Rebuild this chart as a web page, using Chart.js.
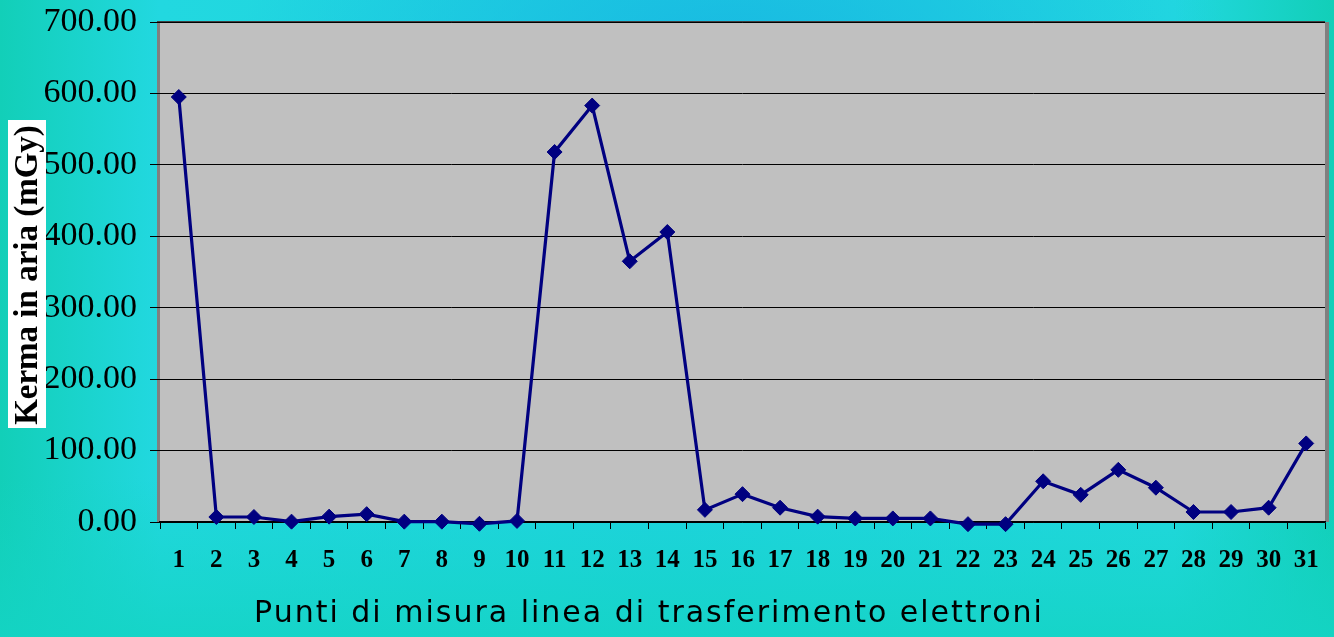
<!DOCTYPE html>
<html>
<head>
<meta charset="utf-8">
<script src="https://cdn.jsdelivr.net/npm/chart.js@4/dist/chart.umd.min.js"></script>
<style>
  html, body { margin: 0; padding: 0; overflow: hidden; }
  body {
    width: 1334px; height: 637px;
    background:
      radial-gradient(ellipse 50% 55% at 55% 10%, rgba(24,182,226,0.9), rgba(24,182,226,0) 75%),
      linear-gradient(180deg, rgba(20,212,196,0) 75%, rgba(20,212,196,0.85) 100%),
      linear-gradient(90deg, #12cfb8 0%, #22d8e0 12%, #1ed3e0 50%, #22d8e0 88%, #12cfb8 100%);
  }
  #wrap { position: absolute; left: 0; top: 0; width: 1334px; height: 637px; }
</style>
</head>
<body>
<div id="wrap"><canvas id="chart"></canvas></div>
<script>
// Kerma in aria lungo la linea di trasferimento elettroni
const points = ['1','2','3','4','5','6','7','8','9','10','11','12','13','14','15','16',
  '17','18','19','20','21','22','23','24','25','26','27','28','29','30','31'];
const kerma = [595, 7, 7, 0.5, 7.5, 11, 0.5, 0.5, -2.5, 1.5, 518, 583, 365, 406, 17, 39,
  20, 7.5, 5, 5, 5, -3, -3, 57, 38, 73, 48, 14, 14, 20, 110];
const yTicks = [0, 100, 200, 300, 400, 500, 600, 700];
const yTitle = 'Kerma in aria (mGy)';
const xTitle = 'Punti di misura linea di trasferimento elettroni';

const plotFrame = {
  id: 'plotFrame',
  beforeDraw(chart) {
    const { ctx, chartArea: a } = chart;
    ctx.save();
    ctx.fillStyle = '#c0c0c0';
    ctx.fillRect(a.left, a.top, a.right - a.left, a.bottom - a.top);
    ctx.fillStyle = '#808080';
    ctx.fillRect(a.left - 3, a.top, 3, a.bottom - a.top);
    ctx.fillRect(a.right, a.top, 4, a.bottom - a.top);
    ctx.fillStyle = '#404040';
    ctx.fillRect(a.left - 3, a.top - 1, a.right - a.left + 3, 2);
    ctx.restore();
  },
  afterDraw(chart) {
    const { ctx } = chart;
    ctx.save();
    // y title, rotated on a white box
    ctx.fillStyle = '#ffffff';
    ctx.fillRect(8, 120, 38, 308);
    ctx.translate(28, 275);
    ctx.rotate(-Math.PI / 2);
    ctx.fillStyle = '#000';
    ctx.font = 'bold 33px "Liberation Serif", "Times New Roman", serif';
    ctx.textAlign = 'center';
    ctx.textBaseline = 'middle';
    ctx.fillText(yTitle, 0, 0);
    ctx.restore();

    ctx.save();
    ctx.fillStyle = '#000';
    ctx.font = '30px "DejaVu Sans", Verdana, sans-serif';
    ctx.letterSpacing = '2px';
    ctx.textAlign = 'center';
    ctx.textBaseline = 'middle';
    ctx.fillText(xTitle, 649, 614);
    ctx.restore();
  }
};

new Chart(document.getElementById('chart'), {
  type: 'line',
  data: {
    labels: points,
    datasets: [{
      data: kerma,
      borderColor: '#000080',
      backgroundColor: '#000080',
      borderWidth: 3.2,
      pointStyle: 'rectRot',
      pointRadius: 7.5,
      pointHoverRadius: 7.5,
      pointBorderWidth: 1,
      tension: 0,
      clip: false,
    }]
  },
  options: {
    responsive: true,
    maintainAspectRatio: false,
    animation: false,
    layout: { padding: { top: 22, right: 9, left: 0, bottom: 0 } },
    plugins: { legend: { display: false }, tooltip: { enabled: false } },
    scales: {
      x: {
        offset: true,
        afterFit: s => { s.height = 115; s.paddingLeft = 0; s.paddingRight = 0; },
        grid: { offset: true, drawOnChartArea: false, color: '#000', tickLength: 7 },
        border: { display: true, color: '#000', width: 1.5 },
        ticks: {
          color: '#000', padding: 17, maxRotation: 0, autoSkip: false,
          font: { family: '"Liberation Serif", "Times New Roman", serif', size: 25, weight: 'bold' }
        }
      },
      y: {
        min: 0,
        max: 700,
        afterFit: s => { s.width = 160; s.paddingTop = 0; s.paddingBottom = 0; },
        afterBuildTicks: s => { s.ticks = yTicks.map(v => ({ value: v })); },
        grid: { color: '#000', lineWidth: 1, tickLength: 10 },
        border: { display: false },
        ticks: {
          color: '#000', padding: 13,
          callback: v => v.toFixed(2),
          font: { family: '"Liberation Serif", "Times New Roman", serif', size: 34 }
        }
      }
    }
  },
  plugins: [plotFrame]
});
</script>
</body>
</html>
